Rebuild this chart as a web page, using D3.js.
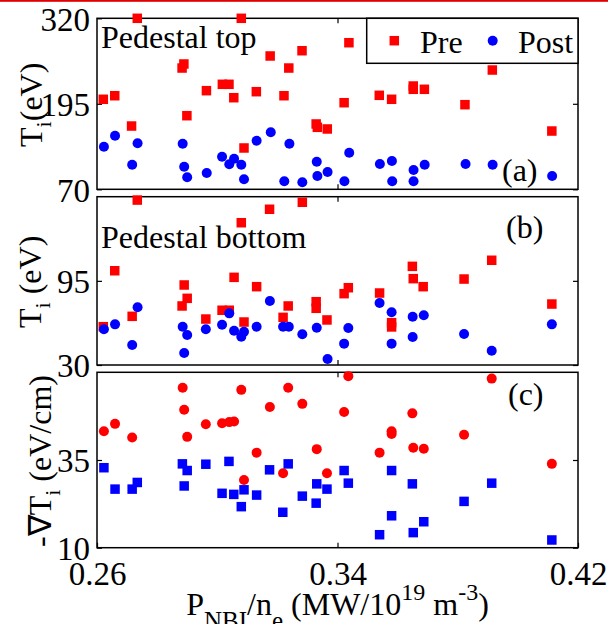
<!DOCTYPE html>
<html lang="en">
  <head>
    <meta charset="utf-8">
    <title>pedestal Ti vs PNBI/ne</title>
    <style>
      body { margin: 0; background: #fff; }
    </style>
  </head>
  <body>
    <script src="https://d3js.org/d3.v7.min.js"></script>
    <div id="my_dataviz"></div>
    <script>

    // x axis: P_NBI / n_e
    var xTicks = [0.26, 0.34, 0.42];

    // panel (a): pedestal top Ti (eV)
    var topRange = [70, 320];
    var topTicks = [70, 195, 320];
    var topPre = [[0.2621,201.6],[0.2659,206.8],[0.2715,162.5],[0.2734,320],[0.2883,247.3],[0.2889,253.2],[0.2899,177.6],[0.2964,214.2],[0.3017,223.5],[0.3039,223.5],[0.3055,203.9],[0.3080,320],[0.3089,130.4],[0.3130,212.7],[0.3176,264.9],[0.3222,206.8],[0.3238,247.3],[0.3282,272.6],[0.3329,165.5],[0.3333,160.6],[0.3366,158.2],[0.3422,196.6],[0.3438,284.3],[0.3539,207.4],[0.3580,201.6],[0.3652,221.0],[0.3652,216.2],[0.3689,216.2],[0.3824,193.7],[0.3915,244.4],[0.4113,155.2]];
    var topPost = [[0.2623,132.3],[0.2660,148.4],[0.2717,106.0],[0.2735,137.3],[0.2885,136.7],[0.2890,103.0],[0.2900,87.5],[0.2965,93.8],[0.3016,117.7],[0.3040,106.6],[0.3056,114.7],[0.3080,106.0],[0.3089,84.6],[0.3131,141.1],[0.3178,153.3],[0.3223,81.7],[0.3240,136.7],[0.3283,80.2],[0.3331,110.4],[0.3333,89.4],[0.3367,95.3],[0.3423,81.7],[0.3439,123.5],[0.3541,107.0],[0.3581,111.4],[0.3582,81.7],[0.3653,98.2],[0.3653,81.7],[0.3690,106.0],[0.3826,107.0],[0.3916,106.0],[0.4114,89.4]];

    // panel (b): pedestal bottom Ti (eV)
    var bottomRange = [30, 160];
    var bottomTicks = [30, 95];
    var bottomPre = [[0.2621,59.6],[0.2659,102.8],[0.2717,67.6],[0.2734,157.4],[0.2883,75.6],[0.2890,91.8],[0.2900,81.5],[0.2962,65.5],[0.3016,72.3],[0.3040,72.3],[0.3056,97.7],[0.3080,139.9],[0.3089,63.2],[0.3131,90.5],[0.3174,150.3],[0.3219,66.8],[0.3236,75.6],[0.3283,155.7],[0.3329,78.9],[0.3329,73.8],[0.3365,64.8],[0.3422,85.1],[0.3436,89.7],[0.3540,85.6],[0.3580,62.7],[0.3580,59.4],[0.3649,106.2],[0.3652,96.7],[0.3685,90.5],[0.3821,96.4],[0.3913,110.9],[0.4113,77.1]];
    var bottomPost = [[0.2623,57.6],[0.2660,61.4],[0.2717,45.4],[0.2735,74.6],[0.2885,59.6],[0.2890,39.3],[0.2900,53.2],[0.2962,57.6],[0.3016,61.1],[0.3040,69.9],[0.3056,56.5],[0.3080,51.9],[0.3089,55.7],[0.3131,59.6],[0.3175,79.4],[0.3219,59.6],[0.3238,59.6],[0.3283,53.7],[0.3331,58.8],[0.3367,34.6],[0.3422,46.5],[0.3436,58.6],[0.3540,77.9],[0.3580,70.7],[0.3580,46.5],[0.3650,51.6],[0.3650,67.3],[0.3687,68.4],[0.3821,53.9],[0.3913,41.0],[0.4113,61.4]];

    // panel (c): -grad Ti (eV/cm)
    var gradRange = [10, 60];
    var gradTicks = [10, 35];
    var gradPre = [[0.2623,43.2],[0.2660,45.3],[0.2717,41.4],[0.2885,55.6],[0.2890,49.3],[0.2900,41.6],[0.2962,45.2],[0.3016,45.5],[0.3040,45.8],[0.3056,46.0],[0.3080,55.0],[0.3089,29.3],[0.3131,37.1],[0.3175,50.1],[0.3219,31.2],[0.3236,55.6],[0.3283,51.0],[0.3331,38.1],[0.3365,31.2],[0.3422,48.7],[0.3436,58.9],[0.3540,37.1],[0.3580,43.2],[0.3580,42.4],[0.3649,48.3],[0.3652,38.5],[0.3687,38.2],[0.3821,42.2],[0.3913,58.2],[0.4113,33.9]];
    var gradPost = [[0.2623,32.8],[0.2660,26.7],[0.2717,26.7],[0.2734,28.6],[0.2884,33.9],[0.2890,27.6],[0.2900,32.0],[0.2962,33.8],[0.3016,25.5],[0.3039,34.6],[0.3055,25.2],[0.3080,21.7],[0.3089,26.5],[0.3131,25.0],[0.3174,32.2],[0.3218,20.1],[0.3236,33.9],[0.3283,24.7],[0.3331,28.2],[0.3329,22.7],[0.3365,26.7],[0.3422,32.0],[0.3436,28.4],[0.3540,13.7],[0.3580,32.0],[0.3580,19.1],[0.3649,28.2],[0.3652,14.3],[0.3687,17.4],[0.3821,23.2],[0.3913,28.4],[0.4113,12.2]];

    var seriesNames = ["Pre", "Post"];
    var red = "#ff0000", blue = "#0000ff";

    var width = 608, height = 624;
    var left = 97, right = 578;

    var svg = d3.select("#my_dataviz")
      .append("svg")
        .attr("width", width)
        .attr("height", height)
        .attr("font-family", "'Liberation Serif', 'Times New Roman', Times, serif")
        .style("display", "block");

    // red rule along the top edge
    svg.append("rect")
      .attr("x", 0).attr("y", 0)
      .attr("width", width).attr("height", 1.8)
      .attr("fill", "#e00000");

    var x = d3.scaleLinear()
      .domain([xTicks[0], xTicks[xTicks.length - 1]])
      .range([left, right]);

    var panels = [
      {top: 18.3, bottom: 189.3, range: topRange, ticks: topTicks, pre: topPre, post: topPost,
       preShape: "square", postShape: "circle", tag: "(a)", tagX: 502, tagY: 181,
       note: "Pedestal top", noteY: 48, titleX: 42},
      {top: 196.7, bottom: 365, range: bottomRange, ticks: bottomTicks, pre: bottomPre, post: bottomPost,
       preShape: "square", postShape: "circle", tag: "(b)", tagX: 506, tagY: 238,
       note: "Pedestal bottom", noteY: 248, titleX: 41},
      {top: 372.3, bottom: 547.7, range: gradRange, ticks: gradTicks, pre: gradPre, post: gradPost,
       preShape: "circle", postShape: "square", tag: "(c)", tagX: 508, tagY: 405,
       note: null, titleX: 51}
    ];

    function drawMarks(g, data, shape, color, y) {
      if (shape == "square") {
        g.selectAll(null)
          .data(data)
          .enter()
          .append("rect")
            .attr("x", function(d){ return x(d[0]) - 4.75 })
            .attr("y", function(d){ return y(d[1]) - 4.75 })
            .attr("width", 9.5)
            .attr("height", 9.5)
            .attr("fill", color);
      } else {
        g.selectAll(null)
          .data(data)
          .enter()
          .append("circle")
            .attr("cx", function(d){ return x(d[0]) })
            .attr("cy", function(d){ return y(d[1]) })
            .attr("r", 5)
            .attr("fill", color);
      }
    }

    function styleAxis(a) {
      a.select(".domain").remove();
      a.attr("font-family", null).attr("font-size", 33);
      a.selectAll("line").attr("stroke", "black").attr("stroke-width", 1.2);
      a.selectAll("text").attr("fill", "black");
    }

    panels.forEach(function(p, i) {
      var y = d3.scaleLinear().domain(p.range).range([p.bottom, p.top]);
      var g = svg.append("g");

      // axes box
      g.append("rect")
        .attr("x", left).attr("y", p.top)
        .attr("width", right - left).attr("height", p.bottom - p.top)
        .attr("fill", "white");

      // inward ticks on all four sides
      g.append("g")
        .attr("transform", "translate(" + left + ",0)")
        .call(d3.axisLeft(y).tickValues(p.ticks).tickSizeInner(-5).tickSizeOuter(0).tickPadding(7))
        .call(styleAxis)
        .selectAll("text").attr("dy", "0.36em");
      g.append("g")
        .attr("transform", "translate(" + right + ",0)")
        .call(d3.axisRight(y).tickValues(p.ticks).tickSizeInner(-5).tickSizeOuter(0).tickFormat(""))
        .call(styleAxis);
      g.append("g")
        .attr("transform", "translate(0," + p.top + ")")
        .call(d3.axisTop(x).tickValues([xTicks[1]]).tickSizeInner(-5).tickSizeOuter(0).tickFormat(""))
        .call(styleAxis);
      var bottomAxis = d3.axisBottom(x).tickSizeInner(-5).tickSizeOuter(0).tickPadding(14);
      if (i == panels.length - 1) bottomAxis.tickValues(xTicks).tickFormat(d3.format(".2f"));
      else bottomAxis.tickValues([xTicks[1]]).tickFormat("");
      g.append("g")
        .attr("transform", "translate(0," + p.bottom + ")")
        .call(bottomAxis)
        .call(styleAxis);

      g.append("rect")
        .attr("x", left).attr("y", p.top)
        .attr("width", right - left).attr("height", p.bottom - p.top)
        .attr("fill", "none")
        .attr("stroke", "black")
        .attr("stroke-width", 1.5);

      drawMarks(g, p.pre, p.preShape, red, y);
      drawMarks(g, p.post, p.postShape, blue, y);

      if (p.note) {
        g.append("text")
          .attr("x", 101).attr("y", p.noteY)
          .attr("font-size", 32)
          .text(p.note);
      }
      g.append("text")
        .attr("x", p.tagX).attr("y", p.tagY)
        .attr("font-size", 32)
        .text(p.tag);

      // y-axis title, rotated
      var t = g.append("text")
        .attr("transform", "translate(" + p.titleX + "," + ((p.top + p.bottom) / 2 + 1) + ") rotate(-90)")
        .attr("text-anchor", "middle")
        .attr("font-size", 32);
      t.append("tspan").text(i == 2 ? "-\u2207T" : "T");
      t.append("tspan").attr("font-size", 22).attr("dy", 9).text("i");
      t.append("tspan").attr("dy", -9).text(i == 0 ? "(eV)" : (i == 1 ? " (eV)" : " (eV/cm)"));
    });

    // legend in panel (a)
    var leg = svg.append("g");
    leg.append("rect")
      .attr("x", 366.7).attr("y", 18.3)
      .attr("width", right - 366.7).attr("height", 45)
      .attr("fill", "white")
      .attr("stroke", "black")
      .attr("stroke-width", 1.5);
    leg.append("rect")
      .attr("x", 394.3 - 4.75).attr("y", 40.7 - 4.75)
      .attr("width", 9.5).attr("height", 9.5)
      .attr("fill", red);
    leg.append("text")
      .attr("x", 420).attr("y", 53)
      .attr("font-size", 32)
      .text(seriesNames[0]);
    leg.append("circle")
      .attr("cx", 492.7).attr("cy", 40.7).attr("r", 5)
      .attr("fill", blue);
    leg.append("text")
      .attr("x", 518).attr("y", 53)
      .attr("font-size", 32)
      .text(seriesNames[1]);

    // x-axis title
    var xt = svg.append("text")
      .attr("x", (left + right) / 2)
      .attr("y", 615)
      .attr("text-anchor", "middle")
      .attr("font-size", 32);
    xt.append("tspan").text("P");
    xt.append("tspan").attr("font-size", 25).attr("dy", 14).text("NBI");
    xt.append("tspan").attr("dy", -14).text("/n");
    xt.append("tspan").attr("font-size", 25).attr("dy", 14).text("e");
    xt.append("tspan").attr("dy", -14).text(" (MW/10");
    xt.append("tspan").attr("font-size", 24).attr("dy", -15).text("19");
    xt.append("tspan").attr("dy", 15).text(" m");
    xt.append("tspan").attr("font-size", 24).attr("dy", -15).text("-3");
    xt.append("tspan").attr("dy", 15).text(")");

    </script>
  </body>
</html>
